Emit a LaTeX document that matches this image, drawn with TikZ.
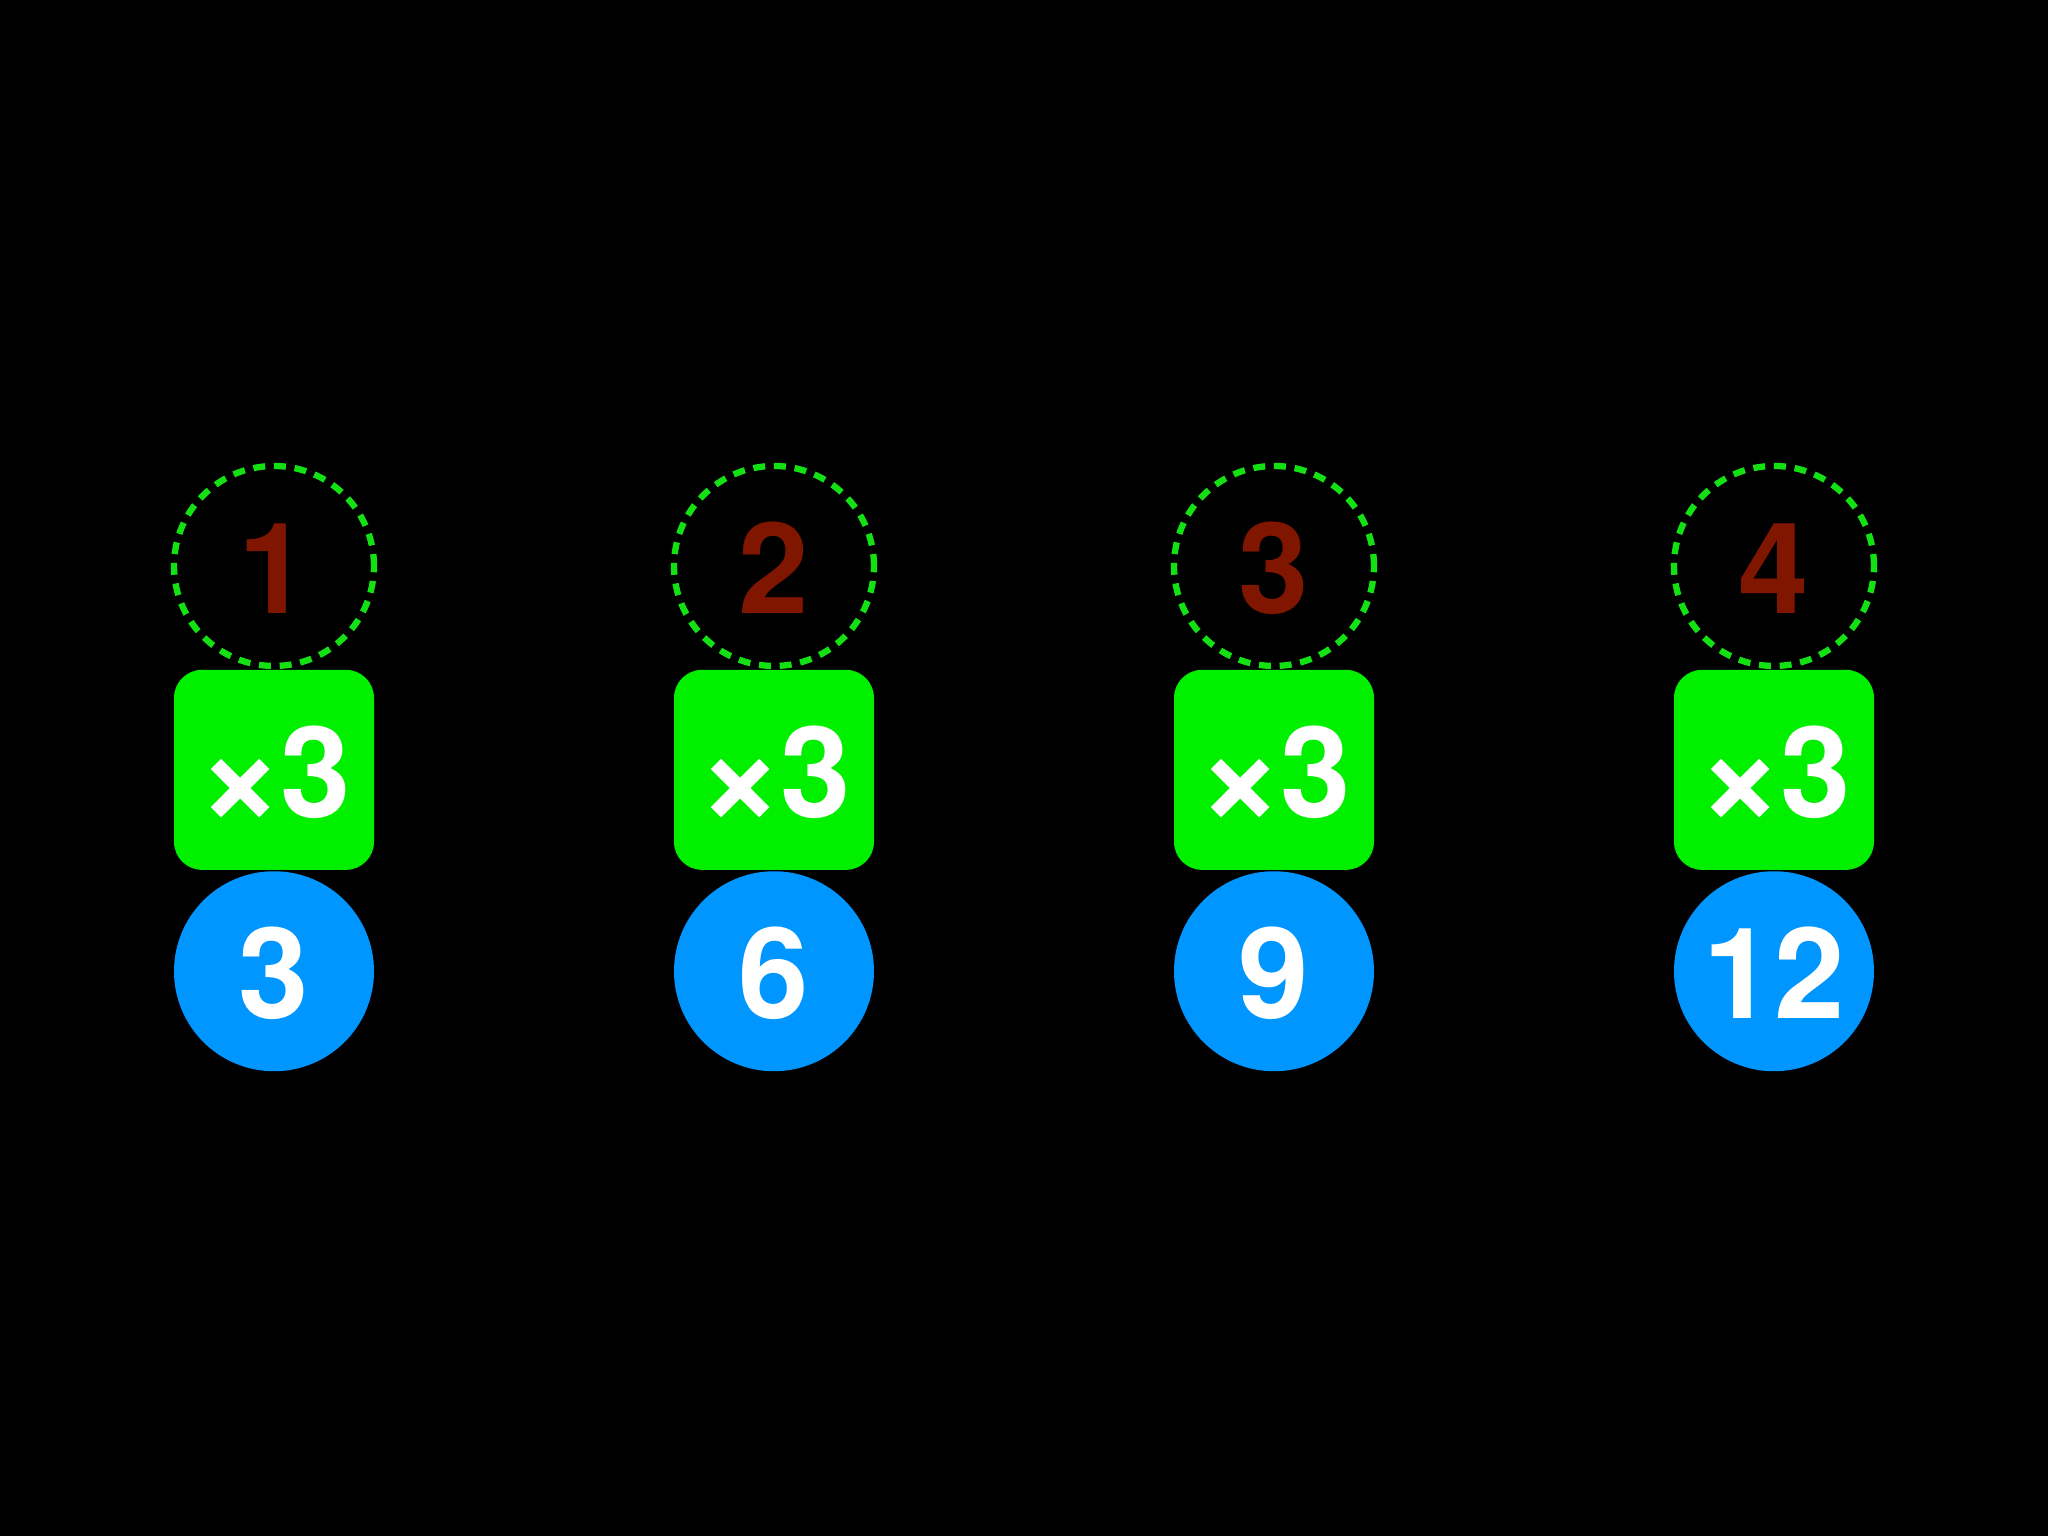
\documentclass[tikz,border=0pt]{standalone}
\usepackage{fontspec}
\setmainfont{TeX Gyre Heros}
\usepackage{tikz}
\usetikzlibrary{positioning}
\definecolor{verdecaja} {RGB}{0, 240,  0}
\definecolor{verdeborde}{RGB}{20, 225, 20}
\definecolor{azulsal}   {RGB}{0, 150,255}
\definecolor{rojoent}   {RGB}{128, 22,  0}
\newcommand{\porx}{\raisebox{-2.4pt}{\fontsize{42}{42}\selectfont ×}\kern-1pt}
\tikzset{
  cifra/.style={font=\fontsize{36}{40}\selectfont\bfseries,
                text height=27pt,text depth=0pt},
  entrada/.style={circle,draw=verdeborde,line width=1.8pt,
                  dash pattern=on 3.4pt off 2.5pt,minimum size=2cm,
                  inner sep=0pt,text=rojoent,cifra},
  maquina/.style={rectangle,rounded corners=0.28cm,fill=verdecaja,
                  minimum size=2cm,inner sep=0pt,text=white,cifra},
  salida/.style={circle,fill=azulsal,minimum size=2cm,
                 inner sep=0pt,text=white,cifra}
}
\begin{document}
\begin{tikzpicture}
\fill[black] (0,0) rectangle (20.48,15.36);
\useasboundingbox (0,0) rectangle (20.48,15.36);
% entrada, maquina por 3 y salida
\foreach \i/\r in {1/3,2/6,3/9,4/12} {
  \node[entrada] (ent\i) at ({2.74+5*(\i-1)},9.70) {\i};
  \node[maquina,below=0pt of ent\i] (maq\i) {\porx 3};
  \node[salida,below=0pt of maq\i] (sal\i) {\r};
}
\end{tikzpicture}
\end{document}
